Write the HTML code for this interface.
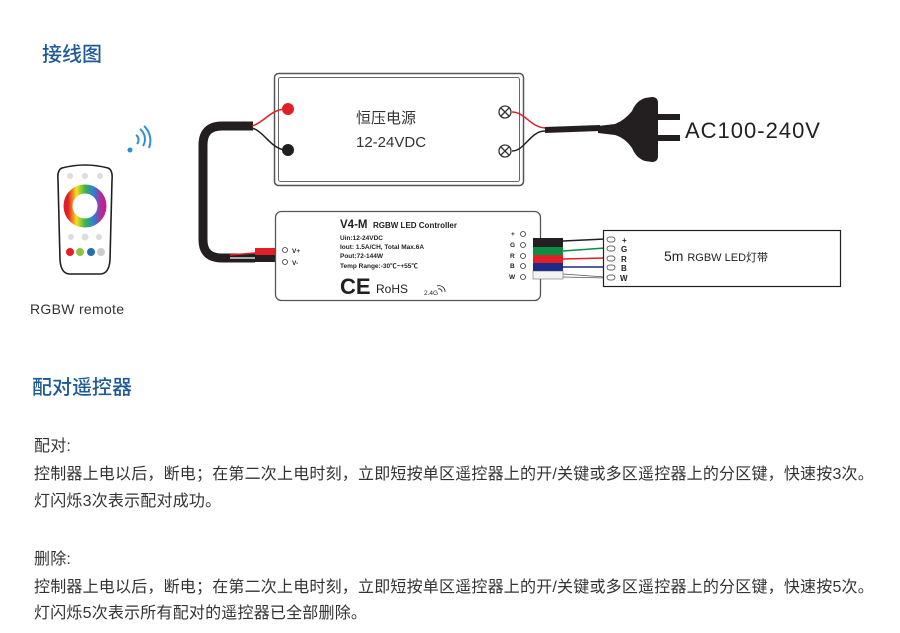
<!DOCTYPE html>
<html><head><meta charset="utf-8">
<style>
html,body{margin:0;padding:0;background:#fff;}
body{width:900px;height:633px;position:relative;overflow:hidden;font-family:"Liberation Sans","Noto Sans CJK SC",sans-serif;}
.t{position:absolute;white-space:nowrap;}
.h{color:#1d5a96;font-size:20px;font-weight:500;}
.p{color:#333;font-size:16px;left:34px;letter-spacing:0.2px;}
</style></head><body>
<div class="t h" style="left:42px;top:38px;">接线图</div>
<svg width="900" height="340" style="position:absolute;left:0;top:0" xmlns="http://www.w3.org/2000/svg" font-family="Liberation Sans, Noto Sans CJK SC, sans-serif">
<rect x="274.5" y="73.5" width="249" height="112" rx="4" fill="#fff" stroke="#555" stroke-width="1.5"/>
<rect x="278.5" y="77.5" width="241" height="104" rx="2" fill="none" stroke="#666" stroke-width="1"/>
<text x="356" y="123" font-size="15" fill="#333">恒压电源</text>
<text x="356" y="147" font-size="15" fill="#333">12-24VDC</text>
<circle cx="288" cy="109" r="6" fill="#e21e26"/>
<circle cx="288" cy="150" r="6" fill="#231f20"/>
<g stroke="#333" fill="#fff" stroke-width="1.3">
<circle cx="505" cy="112" r="6"/><line x1="501" y1="108" x2="509" y2="116"/><line x1="509" y1="108" x2="501" y2="116"/>
<circle cx="505" cy="151" r="6"/><line x1="501" y1="147" x2="509" y2="155"/><line x1="509" y1="147" x2="501" y2="155"/>
</g>
<path d="M253,126 L222,126 Q203,126 203,145 L203,240 Q203,258 222,258 L255,258" fill="none" stroke="#231f20" stroke-width="9"/>
<path d="M252,126 C265,122 270,110 285,109" fill="none" stroke="#e21e26" stroke-width="1.5"/>
<path d="M252,128 C265,132 270,148 285,150" fill="none" stroke="#231f20" stroke-width="1.5"/>
<path d="M230,255 L255,253" stroke="#e21e26" stroke-width="1.5"/>
<path d="M230,258 L255,258" stroke="#fff" stroke-width="1.2"/>
<rect x="255" y="248" width="20" height="7" fill="#e21e26"/>
<rect x="255" y="255" width="20" height="7" fill="#231f20"/>
<path d="M512,112 C525,112 530,127 545,128" fill="none" stroke="#e21e26" stroke-width="1.5"/>
<path d="M512,151 C525,151 530,131 545,131" fill="none" stroke="#231f20" stroke-width="1.5"/>
<path d="M545,130 L600,128" stroke="#231f20" stroke-width="6"/>
<path d="M598,126 L615,124 Q625,120 632,111 Q636,101 645,98 L652,97 Q658,97 658,103 L658,156 Q658,162 652,162 L645,161 Q636,158 632,148 Q625,138 615,135 L598,133 Z" fill="#231f20"/>
<rect x="656" y="114" width="24" height="6" fill="#231f20"/>
<rect x="656" y="135" width="24" height="6" fill="#231f20"/>
<text x="685" y="138" font-size="22" fill="#231f20" letter-spacing="1">AC100-240V</text>
<rect x="275.5" y="211.5" width="265" height="89" rx="6" fill="#fff" stroke="#555" stroke-width="1.3"/>
<text x="340" y="228" font-size="11.5" font-weight="bold" fill="#231f20">V4-M</text>
<text x="373" y="228" font-size="8" font-weight="bold" fill="#231f20">RGBW LED Controller</text>
<g font-size="6.5" fill="#231f20" font-weight="bold">
<text x="340" y="240">Uin:12-24VDC</text>
<text x="340" y="249">Iout: 1.5A/CH, Total Max.6A</text>
<text x="340" y="258">Pout:72-144W</text>
<text x="340" y="268">Temp Range:-30℃~+55℃</text>
</g>
<text x="340" y="294" font-size="22" font-weight="bold" fill="#231f20">CE</text>
<text x="376" y="293" font-size="12" fill="#231f20">RoHS</text>
<text x="424" y="295" font-size="6.5" fill="#231f20">2.4G</text>
<path d="M438,289 a3,3 0 0 1 4,3 M437,286 a6,6 0 0 1 8,6" fill="none" stroke="#231f20" stroke-width="0.8"/>
<g fill="#fff" stroke="#333" stroke-width="0.8">
<circle cx="285" cy="250" r="2.5"/><circle cx="285" cy="262" r="2.5"/>
<circle cx="523" cy="234" r="2.5"/><circle cx="523" cy="245" r="2.5"/><circle cx="523" cy="256" r="2.5"/><circle cx="523" cy="266" r="2.5"/><circle cx="523" cy="277" r="2.5"/>
</g>
<g font-size="6.5" font-weight="bold" fill="#231f20">
<text x="292" y="253">V+</text><text x="292" y="265">V-</text>
<text x="511" y="236">+</text><text x="510" y="247">G</text><text x="510" y="258">R</text><text x="510" y="268">B</text><text x="509" y="279">W</text>
</g>
<rect x="533" y="238" width="30" height="9" fill="#231f20"/>
<rect x="533" y="247" width="30" height="8" fill="#0a8e43"/>
<rect x="533" y="255" width="30" height="8" fill="#e21e26"/>
<rect x="533" y="263" width="30" height="8" fill="#1d2a8a"/>
<rect x="533" y="271" width="30" height="8" fill="#f4f4f4" stroke="#555" stroke-width="0.5"/>
<path d="M563,241 L605,239" stroke="#231f20" stroke-width="1.5"/>
<path d="M563,251 L605,248" stroke="#0a8e43" stroke-width="1.5"/>
<path d="M563,259 L605,258" stroke="#e21e26" stroke-width="1.5"/>
<path d="M563,267 L605,267" stroke="#1d2a8a" stroke-width="1.5"/>
<path d="M563,274 L605,277 M563,277 L605,278" stroke="#555" stroke-width="0.8"/>
<rect x="603.5" y="230.5" width="237" height="56" fill="#fff" stroke="#231f20" stroke-width="1.2"/>
<g fill="#fff" stroke="#333" stroke-width="0.7">
<rect x="607" y="237" width="8" height="5" rx="2.5"/><rect x="607" y="246" width="8" height="5" rx="2.5"/><rect x="607" y="256" width="8" height="5" rx="2.5"/><rect x="607" y="265" width="8" height="5" rx="2.5"/><rect x="607" y="275" width="8" height="5" rx="2.5"/>
</g>
<g font-size="8" font-weight="bold" fill="#231f20">
<text x="622" y="243">+</text><text x="621" y="252">G</text><text x="621" y="262">R</text><text x="621" y="271">B</text><text x="620" y="281">W</text>
</g>
<text x="664" y="261" font-size="14" fill="#231f20">5m <tspan font-size="11">RGBW LED灯带</tspan></text>
<defs><linearGradient id="rb" x1="0" x2="1"><stop offset="0" stop-color="#e21e26"/><stop offset="0.25" stop-color="#f7e11b"/><stop offset="0.5" stop-color="#3bb54a"/><stop offset="0.75" stop-color="#2b7fd6"/><stop offset="1" stop-color="#c0238f"/></linearGradient></defs>
<path d="M62,168 Q85,162 108,168 Q113,170 112,180 L110,260 Q109,274 100,274 L70,274 Q61,274 60,260 L58,180 Q57,170 62,168 Z" fill="#fff" stroke="#231f20" stroke-width="1.6"/>
<circle cx="85" cy="206" r="17" fill="none" stroke="url(#rb)" stroke-width="9"/>
<g fill="#ddd"><circle cx="70" cy="176" r="3"/><circle cx="85" cy="176" r="3"/><circle cx="100" cy="176" r="3"/><circle cx="71" cy="237" r="3"/><circle cx="85" cy="237" r="3.5"/><circle cx="99" cy="237" r="3"/></g>
<circle cx="70" cy="252" r="4" fill="#e21e26"/><circle cx="80" cy="252" r="4" fill="#8cc63f"/><circle cx="91" cy="252" r="4" fill="#1f6fb5"/><circle cx="101" cy="252" r="4" fill="#ccc"/>
<g fill="none" stroke="#2b8fd6" stroke-width="2"><path d="M137,144 a6,6 0 0 0 -1,-9"/><path d="M143,146 a13,13 0 0 0 -3,-17"/><path d="M149,148 a20,20 0 0 0 -5,-22"/></g>
<circle cx="130" cy="150" r="2.5" fill="#2b8fd6"/>
</svg>
<div class="t" style="left:30px;top:301px;font-size:14px;color:#333;letter-spacing:0.3px;">RGBW remote</div>
<div class="t h" style="left:32px;top:371px;">配对遥控器</div>
<div class="t p" style="top:432px;">配对:</div>
<div class="t p" style="top:460px;">控制器上电以后，断电；在第二次上电时刻，立即短按单区遥控器上的开/关键或多区遥控器上的分区键，快速按3次。</div>
<div class="t p" style="top:487px;">灯闪烁3次表示配对成功。</div>
<div class="t p" style="top:545px;">删除:</div>
<div class="t p" style="top:573px;">控制器上电以后，断电；在第二次上电时刻，立即短按单区遥控器上的开/关键或多区遥控器上的分区键，快速按5次。</div>
<div class="t p" style="top:599px;">灯闪烁5次表示所有配对的遥控器已全部删除。</div>
</body></html>
